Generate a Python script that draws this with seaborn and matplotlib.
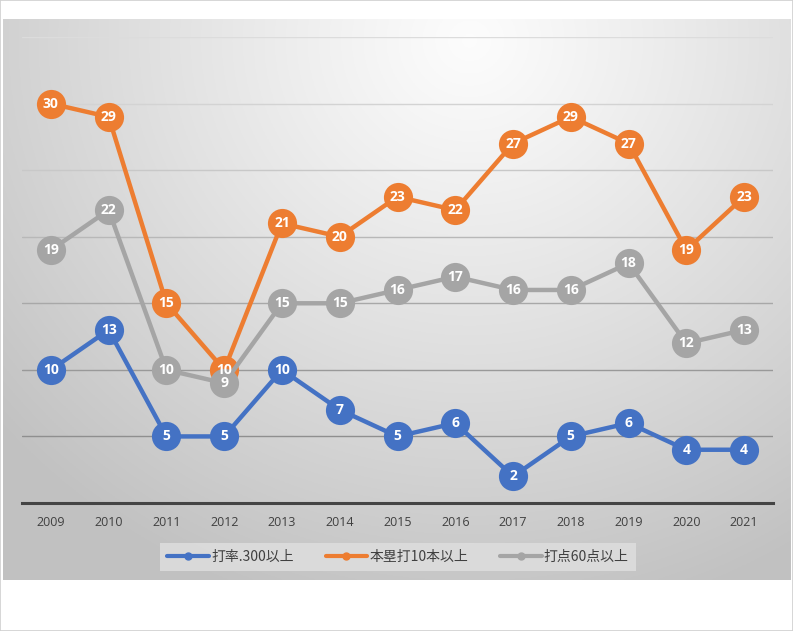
import numpy as np
import pandas as pd
import matplotlib
matplotlib.use("Agg")
import matplotlib.pyplot as plt
from matplotlib.lines import Line2D
from matplotlib.patches import Rectangle
import seaborn as sns

years = ["2009", "2010", "2011", "2012", "2013", "2014", "2015", "2016",
         "2017", "2018", "2019", "2020", "2021"]
series_names = ["打率.300以上", "本塁打10本以上", "打点60点以上"]
batting = [10, 13, 5, 5, 10, 7, 5, 6, 2, 5, 6, 4, 4]
homeruns = [30, 29, 15, 10, 21, 20, 23, 22, 27, 29, 27, 19, 23]
rbi = [19, 22, 10, 9, 15, 15, 16, 17, 16, 16, 18, 12, 13]
colors = ["#4472C4", "#ED7D31", "#A5A5A5"]

sns.set_theme(style="white")
plt.rcParams['font.family'] = ['Noto Sans CJK JP', 'DejaVu Sans']

W, H = 793, 631
fig = plt.figure(figsize=(W / 100, H / 100), dpi=100)
fig.patch.set_facecolor("white")

# Background gradient panel
bg = fig.add_axes([3 / W, 1 - 580 / H, 788 / W, 561 / H], zorder=0)
bg.set_axis_off()
nx, ny = 400, 300
xx, yy = np.meshgrid(np.linspace(3, 791, nx), np.linspace(19, 580, ny))
cx, cy = 470, 40
d = np.sqrt(((xx - cx) / 1.0) ** 2 + ((yy - cy) / 0.95) ** 2)
d = np.clip(d / 620, 0, 1)
light, dark = 0.99, 0.76
val = light - (light - dark) * d ** 1.1
img = np.dstack([val, val, val])
bg.imshow(img, aspect="auto", extent=[0, 1, 0, 1], origin="upper")
bg.set_xlim(0, 1)
bg.set_ylim(0, 1)

# outer border
fig.patches.append(Rectangle((0, 0), 1, 1, transform=fig.transFigure, fill=False,
                             edgecolor="#d0d0d0", linewidth=1.2, zorder=-1))

ax = fig.add_axes([22 / W, 1 - 503 / H, 751 / W, 466 / H], zorder=1)
ax.patch.set_alpha(0)

df = pd.DataFrame({
    "year": years * 3,
    "x": list(range(len(years))) * 3,
    "value": batting + homeruns + rbi,
    "series": [series_names[0]] * len(years) + [series_names[1]] * len(years) + [series_names[2]] * len(years),
})

for i, name in enumerate(series_names):
    sub = df[df["series"] == name]
    sns.lineplot(data=sub, x="x", y="value", ax=ax, color=colors[i], linewidth=3.2,
                 marker="o", markersize=21, markeredgewidth=0, legend=False,
                 zorder=3 + i)

for i, name in enumerate(series_names):
    sub = df[df["series"] == name]
    for xv, yv in zip(sub["x"], sub["value"]):
        ax.text(xv, yv, str(yv), ha="center", va="center", color="white",
                fontsize=10, fontweight="bold", family=['Open Sans', 'DejaVu Sans'],
                zorder=10)

ax.set_xlim(-0.5, 12.5)
ax.set_ylim(0, 35)
ax.set_xticks(range(len(years)))
ax.set_xticklabels(years, fontsize=9, color="#404040", family=['Open Sans', 'DejaVu Sans'])
ax.tick_params(axis="x", length=0, pad=9)
ax.set_yticks([])
ax.set_xlabel("")
ax.set_ylabel("")
for s in ["top", "right", "left"]:
    ax.spines[s].set_visible(False)
ax.spines["bottom"].set_color("#444444")
ax.spines["bottom"].set_linewidth(2.2)

grid_vals = [5, 10, 15, 20, 25, 30, 35]
grid_cols = ["#8f8f8f", "#999999", "#a8a8a8", "#b8b8b8", "#c8c8c8", "#d3d3d3", "#dcdcdc"]
for gv, gc in zip(grid_vals, grid_cols):
    ax.axhline(gv, color=gc, linewidth=1.0, zorder=1)

handles = [Line2D([0], [0], color=c, linewidth=3, marker="o", markersize=5) for c in colors]
leg = fig.legend(handles, series_names, loc="center", bbox_to_anchor=(398 / W, 1 - 557 / H),
                 ncol=3, frameon=True, fontsize=10, handlelength=3.0, handletextpad=0.15,
                 columnspacing=2.3, borderpad=0.5, borderaxespad=0, fancybox=False)
leg.get_frame().set_facecolor("#dedede")
leg.get_frame().set_edgecolor("none")
leg.get_frame().set_alpha(0.85)
for t in leg.get_texts():
    t.set_color("#404040")

fig.savefig("out.png", dpi=100)
